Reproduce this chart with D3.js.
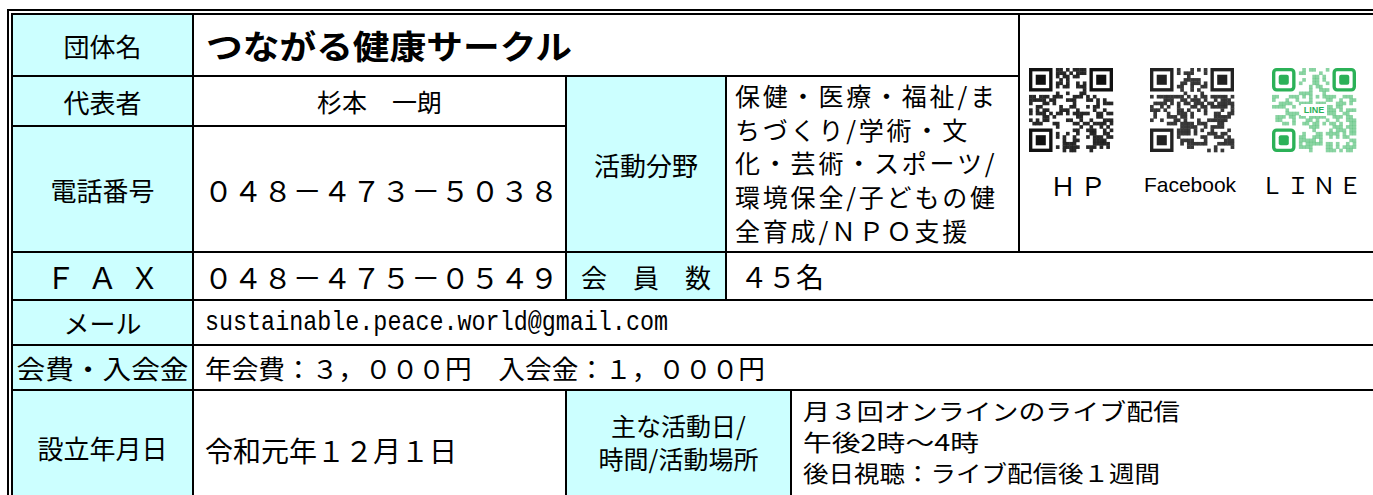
<!DOCTYPE html>
<html><head><meta charset="utf-8">
<script src="https://cdn.jsdelivr.net/npm/d3@7"></script>
<style>html,body{margin:0;padding:0;background:#fff;overflow:hidden}</style>
</head><body>
<svg id="c" width="1373" height="495"></svg>
<script>
// ---- content ----
const orgName = "つながる健康サークル";
const fieldLabels = ["団体名","代表者","電話番号","ＦＡＸ","メール","会費・入会金","設立年月日"];
const repName = "杉本　一朗";
const phone = "０４８－４７３－５０３８";
const fax = "０４８－４７５－０５４９";
const email = "sustainable.peace.world@gmail.com";
const fees = "年会費：３，０００円　入会金：１，０００円";
const founded = "令和元年１２月１日";
const activityLabel = "活動分野";
const activityFields = ["保健・医療・福祉/ま","ちづくり/学術・文","化・芸術・スポーツ/","環境保全/子どもの健","全育成/ＮＰＯ支援"];
const memberLabel = "会　員　数";
const members = "４５名";
const scheduleLabel = ["主な活動日/","時間/活動場所"];
const schedule = ["月３回オンラインのライブ配信","午後2時～4時","後日視聴：ライブ配信後１週間"];
const qrLabels = ["ＨＰ","Facebook","ＬＩＮＥ"];
const qrSeeds = [17, 53, 91];

// ---- layout grid ----
const colEdges = [12, 193, 566, 726, 791, 1019, 1380];
const rowEdges = [14, 76, 126, 252, 300, 345, 390, 505];
const X = i => colEdges[i], Y = i => rowEdges[i];
const LABEL = "#ccffff";
const JP = "'Noto Sans CJK JP', sans-serif";

const svg = d3.select("#c");

const cells = [
  {r:[0,1], c:[0,1], f:LABEL}, {r:[0,1], c:[1,5]}, {r:[0,3], c:[5,6]},
  {r:[1,2], c:[0,1], f:LABEL}, {r:[1,2], c:[1,2]}, {r:[1,3], c:[2,3], f:LABEL}, {r:[1,3], c:[3,5]},
  {r:[2,3], c:[0,1], f:LABEL}, {r:[2,3], c:[1,2]},
  {r:[3,4], c:[0,1], f:LABEL}, {r:[3,4], c:[1,2]}, {r:[3,4], c:[2,3], f:LABEL}, {r:[3,4], c:[3,6]},
  {r:[4,5], c:[0,1], f:LABEL}, {r:[4,5], c:[1,6]},
  {r:[5,6], c:[0,1], f:LABEL}, {r:[5,6], c:[1,6]},
  {r:[6,7], c:[0,1], f:LABEL}, {r:[6,7], c:[1,2]}, {r:[6,7], c:[2,4], f:LABEL}, {r:[6,7], c:[4,6]}
];
svg.selectAll("rect.cell").data(cells).join("rect").attr("class","cell")
  .attr("x", d => X(d.c[0])).attr("y", d => Y(d.r[0]))
  .attr("width", d => X(d.c[1]) - X(d.c[0])).attr("height", d => Y(d.r[1]) - Y(d.r[0]))
  .attr("fill", d => d.f || "#fff").attr("stroke", "#000").attr("stroke-width", 2);

// outer double line
svg.append("path").attr("d", `M8,505 V10 H1380`).attr("fill","none").attr("stroke","#000").attr("stroke-width",2);

function txt(s, x, y, o = {}) {
  const t = svg.append("text").attr("x", x).attr("y", y).text(s)
    .attr("font-family", o.ff || JP).attr("font-size", o.fs || 25)
    .attr("font-weight", o.fw || 400).attr("fill", "#000")
    .attr("text-anchor", o.a || "start").attr("dominant-baseline", "central");
  if (o.ls) t.attr("letter-spacing", o.ls);
  if (o.tl) t.attr("textLength", o.tl).attr("lengthAdjust", o.adj || "spacingAndGlyphs");
  return t;
}
const cx = (a, b) => (X(a) + X(b)) / 2, cy = (a, b) => (Y(a) + Y(b)) / 2;

// labels in first column
fieldLabels.forEach((s, i) => {
  const o = {a: "middle", fs: 26};
  if (i === 3) { o.fs = 30; o.ls = 12; }
  if (i === 5) { o.tl = 172; }
  txt(s, cx(0,1) + (o.ls ? o.ls/2 : 0), cy(i, i+1), o);
});

txt(orgName, 206, cy(0,1), {fs: 33, fw: 700, tl: 366});
txt(repName, cx(1,2), cy(1,2), {a:"middle", fs: 25});
txt(phone, 204, cy(2,3), {fs: 29, ls: 0.6});
txt(fax, 204, cy(3,4), {fs: 29, ls: 0.6});
txt(activityLabel, cx(2,3), cy(1,3), {a:"middle", fs: 26});
activityFields.forEach((s, i) => txt(s, 735, 95 + i * 33.7, {fs: 25, ls: 2.8}));
txt(memberLabel, cx(2,3), cy(3,4), {a:"middle", fs: 26});
txt(members, 740, cy(3,4), {fs: 28});
txt(email, 205, cy(4,5), {ff: "'Liberation Mono', monospace", fs: 28, tl: 463});
txt(fees, 205, cy(5,6), {fs: 26, tl: 560});
txt(founded, 205, cy(6,7) + 2, {fs: 28});
scheduleLabel.forEach((s, i) => txt(s, cx(2,4), 425 + i * 33, {a:"middle", fs: 25}));
const schedLen = [377, 176, 357];
schedule.forEach((s, i) => txt(s, 803, 410 + i * 31, {fs: 23, tl: schedLen[i], adj: "spacingAndGlyphs"}));

// QR-like codes
const qrX = [1029, 1150, 1272], qrY = 68, qrS = 84, N = 25;
const qrCol = ["#111", "#222", "#2bb157"];
function hash(i, j, s) { let h = (i * 374761393 + j * 668265263 + s * 2246822519) >>> 0; h = Math.imul(h ^ (h >>> 13), 1274126177) >>> 0; return (h ^ (h >>> 16)) >>> 0; }
qrSeeds.forEach((seed, q) => {
  const g = svg.append("g").attr("transform", `translate(${qrX[q]},${qrY})`);
  const m = qrS / N;
  const mods = [];
  const inFinder = (i, j) => (i < 8 && j < 8) || (i < 8 && j >= N - 8) || (i >= N - 8 && j < 8);
  for (let i = 0; i < N; i++) for (let j = 0; j < N; j++) {
    if (inFinder(i, j)) continue;
    if (hash(i, j, seed) % 100 < 48) mods.push([i, j]);
  }
  g.selectAll("rect.m").data(mods).join("rect").attr("class","m")
    .attr("x", d => d[1] * m).attr("y", d => d[0] * m).attr("width", m + 0.3).attr("height", m + 0.3)
    .attr("fill", qrCol[q]).attr("opacity", q === 2 ? 0.55 : 0.9);
  [[0,0],[0,N-7],[N-7,0]].forEach(([r, c]) => {
    g.append("rect").attr("x", c*m + m/2).attr("y", r*m + m/2).attr("width", 6*m).attr("height", 6*m)
      .attr("fill","none").attr("stroke", qrCol[q]).attr("stroke-width", m).attr("rx", q===2 ? 3 : 0);
    g.append("rect").attr("x", (c+2)*m).attr("y", (r+2)*m).attr("width", 3*m).attr("height", 3*m)
      .attr("fill", qrCol[q]).attr("rx", q===2 ? 2 : 0);
  });
  if (q === 2) {
    g.append("rect").attr("x", qrS/2 - 13).attr("y", qrS/2 - 6).attr("width", 26).attr("height", 12).attr("fill", "#fff");
    g.append("text").attr("x", qrS/2).attr("y", qrS/2).text("LINE").attr("font-family","Arial, sans-serif")
      .attr("font-size", 9).attr("font-weight", 700).attr("fill", qrCol[q]).attr("text-anchor","middle").attr("dominant-baseline","central");
  }
});
const qrLabelX = [1078, 1190, 1311];
qrLabels.forEach((s, i) => {
  const o = {a: "middle", fs: 22};
  if (i === 0) { o.fs = 26; o.ls = 4; }
  if (i === 1) { o.fs = 21; }
  if (i === 2) { o.fs = 23; o.ls = 3; }
  txt(s, qrLabelX[i] + (o.ls ? o.ls / 2 : 0), 184, {...o, ff: i === 1 ? "'Liberation Sans', Arial, sans-serif" : JP});
});
</script>
</body></html>
